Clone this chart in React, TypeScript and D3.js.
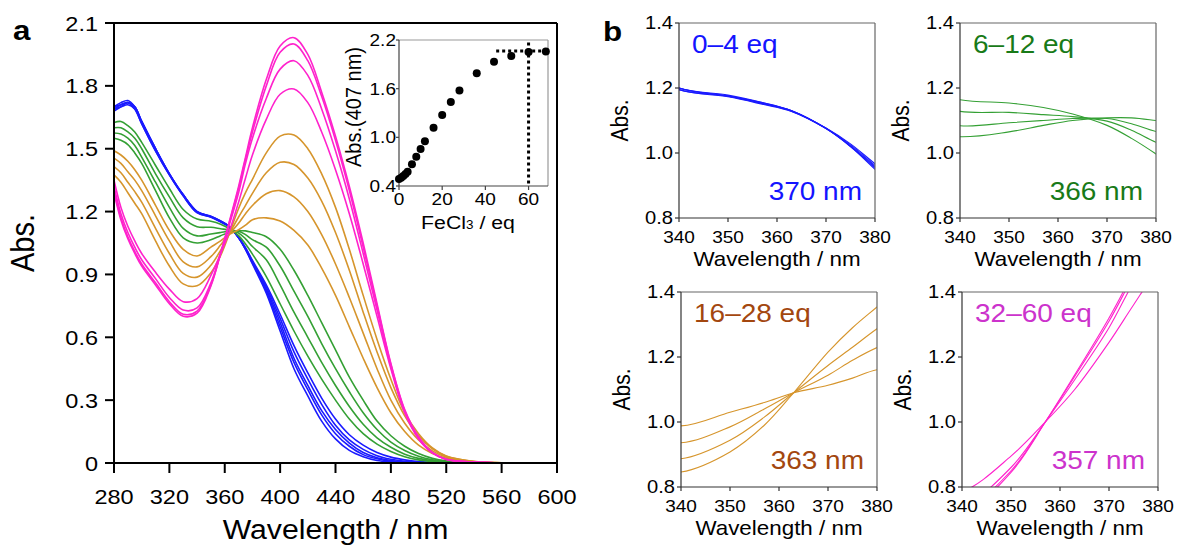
import React from 'react';
import * as d3 from 'd3';

// ---------- data ----------
const wavelengths = [280,285,290,295,300,310,320,330,340,350,357,363,370,375,380,390,400,410,420,430,440,450,460,470,480,490,500,510,520,540,560,600];

const blue0eq = [1.69,1.71,1.72,1.70,1.63,1.50,1.38,1.28,1.20,1.175,1.155,1.13,1.075,1.02,0.95,0.81,0.63,0.45,0.32,0.20,0.115,0.06,0.03,0.012,0.005,0.002,0,0,0,0,0,0];
const blue1eq = [1.70,1.72,1.73,1.70,1.63,1.50,1.38,1.28,1.20,1.178,1.155,1.13,1.076,1.02,0.955,0.82,0.65,0.48,0.35,0.23,0.14,0.08,0.04,0.02,0.008,0.003,0,0,0,0,0,0];
const blue2eq = [1.68,1.70,1.72,1.69,1.62,1.49,1.375,1.275,1.195,1.175,1.152,1.128,1.075,1.022,0.958,0.83,0.67,0.50,0.37,0.25,0.16,0.095,0.05,0.025,0.012,0.005,0.002,0,0,0,0,0];
const blue3eq = [1.70,1.71,1.72,1.70,1.63,1.50,1.38,1.28,1.20,1.176,1.153,1.13,1.076,1.025,0.962,0.84,0.69,0.53,0.40,0.28,0.18,0.11,0.065,0.035,0.018,0.008,0.003,0,0,0,0,0];
const blue4eq = [1.69,1.70,1.71,1.69,1.62,1.49,1.375,1.275,1.195,1.173,1.15,1.128,1.077,1.028,0.967,0.85,0.71,0.56,0.43,0.31,0.21,0.135,0.085,0.05,0.028,0.015,0.007,0.003,0,0,0,0];

const green6eq = [1.625,1.63,1.61,1.58,1.53,1.42,1.31,1.21,1.164,1.154,1.14,1.12,1.085,1.045,0.997,0.89,0.76,0.63,0.51,0.40,0.30,0.21,0.14,0.09,0.055,0.03,0.015,0.007,0.003,0,0,0];
const green8eq = [1.60,1.60,1.58,1.55,1.50,1.38,1.27,1.17,1.128,1.125,1.118,1.112,1.098,1.07,1.033,0.97,0.85,0.72,0.60,0.48,0.37,0.27,0.185,0.12,0.075,0.042,0.022,0.01,0.004,0,0,0];
const green10eq = [1.575,1.57,1.55,1.515,1.46,1.34,1.22,1.12,1.084,1.093,1.10,1.106,1.106,1.09,1.066,1.03,0.94,0.82,0.70,0.57,0.45,0.34,0.24,0.16,0.10,0.06,0.032,0.015,0.006,0.001,0,0];
const green12eq = [1.55,1.54,1.52,1.48,1.43,1.30,1.17,1.075,1.05,1.065,1.085,1.10,1.108,1.108,1.10,1.08,1.02,0.92,0.80,0.67,0.54,0.41,0.30,0.20,0.13,0.08,0.045,0.022,0.01,0.002,0,0];

const gold16eq = [1.49,1.47,1.44,1.40,1.35,1.23,1.11,1.02,0.988,1.03,1.06,1.09,1.113,1.135,1.161,1.17,1.155,1.11,1.04,0.93,0.80,0.65,0.50,0.36,0.24,0.15,0.085,0.045,0.022,0.005,0,0];
const gold20eq = [1.455,1.43,1.39,1.35,1.30,1.18,1.06,0.96,0.936,0.985,1.04,1.09,1.144,1.19,1.229,1.285,1.30,1.27,1.20,1.09,0.95,0.79,0.62,0.45,0.30,0.19,0.11,0.058,0.028,0.006,0.001,0];
const gold24eq = [1.415,1.385,1.34,1.295,1.245,1.12,1.00,0.905,0.887,0.944,1.015,1.09,1.174,1.23,1.287,1.385,1.435,1.425,1.36,1.25,1.10,0.92,0.72,0.53,0.36,0.225,0.13,0.068,0.032,0.007,0.001,0];
const gold28eq = [1.375,1.34,1.29,1.24,1.19,1.06,0.94,0.855,0.846,0.908,0.99,1.09,1.215,1.29,1.354,1.48,1.56,1.565,1.50,1.38,1.22,1.02,0.80,0.59,0.40,0.24,0.14,0.072,0.034,0.008,0.001,0];

const pink36eq = [1.35,1.22,1.13,1.06,1.00,0.91,0.83,0.77,0.785,0.895,1.00,1.10,1.245,1.36,1.47,1.64,1.76,1.785,1.72,1.58,1.40,1.19,0.95,0.70,0.45,0.24,0.115,0.048,0.017,0.004,0.001,0];
const pink44eq = [1.32,1.19,1.10,1.03,0.97,0.88,0.79,0.73,0.74,0.86,1.00,1.13,1.29,1.43,1.55,1.74,1.88,1.92,1.85,1.69,1.49,1.26,1.00,0.73,0.46,0.245,0.12,0.05,0.017,0.004,0.001,0];
const pink52eq = [1.30,1.17,1.08,1.01,0.95,0.86,0.77,0.71,0.725,0.85,1.00,1.14,1.31,1.45,1.58,1.80,1.96,2.00,1.92,1.75,1.54,1.30,1.03,0.75,0.47,0.25,0.12,0.05,0.018,0.004,0.001,0];
const pink60eq = [1.29,1.16,1.07,1.00,0.94,0.85,0.76,0.70,0.715,0.845,1.00,1.145,1.32,1.46,1.60,1.83,1.99,2.03,1.95,1.77,1.56,1.32,1.05,0.76,0.475,0.255,0.125,0.05,0.018,0.004,0.001,0];

const blueSeries = [blue0eq, blue1eq, blue2eq, blue3eq, blue4eq];
const greenSeries = [green6eq, green8eq, green10eq, green12eq];
const goldSeries = [gold16eq, gold20eq, gold24eq, gold28eq];
const pinkSeries = [pink36eq, pink44eq, pink52eq, pink60eq];

const insetEq = [0,1,2,3,4,6,8,10,12,16,20,24,28,36,44,52,60,68];
const insetAbs = [0.486,0.503,0.523,0.548,0.577,0.667,0.762,0.856,0.951,1.119,1.275,1.436,1.576,1.789,1.933,2.003,2.052,2.057];

const mainXTicks = [280,320,360,400,440,480,520,560,600];
const mainYTicks = [0,0.3,0.6,0.9,1.2,1.5,1.8,2.1];
const mainYLabels = ['0','0.3','0.6','0.9','1.2','1.5','1.8','2.1'];
const insetXTicks = [0,20,40,60];
const insetYTicks = [0.4,1.0,1.6,2.2];
const subXTicks = [340,350,360,370,380];
const subYTicks = [0.8,1.0,1.2,1.4];

// ---------- styles ----------
const BLUE = '#1a1aff';
const GREEN = '#34a034';
const GOLD = '#d6952c';
const PINK = '#ff22cc';
const FONT = 'Liberation Sans, Arial, Helvetica, sans-serif';
const SX = 1.12;

function T({ x, y, size, anchor = 'start', fill = '#000', weight = 'normal', rotate = false, dy = '0', children }: any) {
  const tf = rotate
    ? `translate(${x},${y}) rotate(-90) scale(1,${SX})`
    : `translate(${x},${y}) scale(${SX},1)`;
  return (
    <text transform={tf} fontFamily={FONT} fontSize={size} textAnchor={anchor} fill={fill} fontWeight={weight} dy={dy}>
      {children}
    </text>
  );
}

function makeLine(x: any, y: any) {
  return d3
    .line<number>()
    .x((_, i) => x(wavelengths[i]))
    .y((v) => y(v))
    .curve(d3.curveCatmullRom.alpha(0.5));
}

function PanelA() {
  const L = 114, R = 557, TOP = 23, B = 463;
  const x = d3.scaleLinear().domain([280, 600]).range([L, R]);
  const y = d3.scaleLinear().domain([0, 2.1]).range([B, TOP]);
  const line = makeLine(x, y);
  const groups: [number[][], string][] = [
    [blueSeries, BLUE],
    [greenSeries, GREEN],
    [goldSeries, GOLD],
    [pinkSeries, PINK],
  ];
  // inset
  const iL = 399, iR = 548, iT = 40, iB = 186;
  const ix = d3.scaleLinear().domain([0, 69]).range([iL, iR]);
  const iy = d3.scaleLinear().domain([0.4, 2.2]).range([iB, iT]);
  return (
    <g>
      <defs>
        <clipPath id="clipA">
          <rect x={L} y={TOP - 5} width={R - L} height={B - TOP + 5} />
        </clipPath>
      </defs>
      <g clipPath="url(#clipA)">
        {groups.map(([ser, col], gi) =>
          ser.map((s, si) => (
            <path key={`${gi}-${si}`} d={line(s) || ''} fill="none" stroke={col} strokeWidth={1.6} />
          ))
        )}
      </g>
      {/* frame */}
      <line x1={L} x2={R} y1={TOP} y2={TOP} stroke="#000" strokeWidth={2} />
      <line x1={R} x2={R} y1={TOP} y2={B + 10} stroke="#000" strokeWidth={2} />
      <line x1={L} x2={L} y1={TOP} y2={B} stroke="#000" strokeWidth={2} />
      <line x1={L} x2={R} y1={B} y2={B} stroke="#000" strokeWidth={2} />
      {mainXTicks.map((t) => (
        <g key={t}>
          <line x1={x(t)} x2={x(t)} y1={B} y2={B + 10} stroke="#000" strokeWidth={2} />
          <T x={x(t)} y={B + 41} size={21} anchor="middle">{t}</T>
        </g>
      ))}
      {mainYTicks.map((t, i) => (
        <g key={t}>
          <line x1={L - 9} x2={L} y1={y(t)} y2={y(t)} stroke="#000" strokeWidth={2} />
          <T x={L - 16} y={y(t)} size={21} anchor="end" dy="0.36em">{mainYLabels[i]}</T>
        </g>
      ))}
      <T x={(L + R) / 2} y={539} size={27} anchor="middle">Wavelength / nm</T>
      <T x={34} y={(TOP + B) / 2} size={29} anchor="middle" rotate>Abs.</T>
      <T x={13} y={40} size={28} weight="bold">a</T>

      {/* inset */}
      <line x1={iL} x2={iR} y1={iT} y2={iT} stroke="#999" strokeWidth={1.2} />
      <line x1={iR} x2={iR} y1={iT} y2={iB} stroke="#999" strokeWidth={1.2} />
      <line x1={iL} x2={iL} y1={iT} y2={iB} stroke="#444" strokeWidth={1.2} />
      <line x1={iL} x2={iR} y1={iB} y2={iB} stroke="#444" strokeWidth={1.2} />
      {insetXTicks.map((t) => (
        <g key={t}>
          <line x1={ix(t)} x2={ix(t)} y1={iB} y2={iB + 4} stroke="#444" strokeWidth={1.2} />
          <T x={ix(t)} y={iB + 19} size={17} anchor="middle">{t}</T>
        </g>
      ))}
      {insetYTicks.map((t) => (
        <g key={t}>
          <line x1={iL - 3} x2={iL} y1={iy(t)} y2={iy(t)} stroke="#444" strokeWidth={1.2} />
          <T x={iL - 3} y={iy(t)} size={17} anchor="end" dy="0.36em">{t.toFixed(1)}</T>
        </g>
      ))}
      <line x1={ix(45)} x2={ix(69)} y1={iy(2.065)} y2={iy(2.065)} stroke="#000" strokeWidth={3} strokeDasharray="3 3" />
      <line x1={ix(60)} x2={ix(60)} y1={iy(2.17)} y2={iy(0.4)} stroke="#000" strokeWidth={3} strokeDasharray="3 3" />
      {insetEq.map((e, i) => (
        <circle key={i} cx={ix(e)} cy={iy(insetAbs[i])} r={4} fill="#000" />
      ))}
      <text transform={`translate(${468},${iB + 43}) scale(${SX},1)`} fontFamily={FONT} fontSize={19} textAnchor="middle">
        FeCl<tspan fontSize={12}>3</tspan> / eq
      </text>
      <T x={361} y={107} size={20} anchor="middle" rotate>Abs.(407 nm)</T>
    </g>
  );
}

function SubPlot({ id, L, TOP, series, color, label, labelColor, iso }: any) {
  const W = 196, H = 195;
  const R = L + W, B = TOP + H;
  const x = d3.scaleLinear().domain([340, 380]).range([L, R]);
  const y = d3.scaleLinear().domain([0.8, 1.4]).range([B, TOP]);
  const line = makeLine(x, y);
  return (
    <g>
      <defs>
        <clipPath id={id}>
          <rect x={L} y={TOP} width={W} height={H} />
        </clipPath>
      </defs>
      <g clipPath={`url(#${id})`}>
        {series.map((s: number[], i: number) => (
          <path key={i} d={line(s) || ''} fill="none" stroke={color} strokeWidth={1.1} />
        ))}
      </g>
      <line x1={L} x2={R} y1={TOP} y2={TOP} stroke="#666" strokeWidth={1.2} />
      <line x1={R} x2={R} y1={TOP} y2={B} stroke="#666" strokeWidth={1.2} />
      <line x1={L} x2={L} y1={TOP} y2={B} stroke="#333" strokeWidth={1.2} />
      <line x1={L} x2={R} y1={B} y2={B} stroke="#333" strokeWidth={1.2} />
      {subXTicks.map((t) => (
        <g key={t}>
          <line x1={x(t)} x2={x(t)} y1={B} y2={B + 4} stroke="#333" strokeWidth={1.2} />
          <T x={x(t)} y={B + 25} size={17} anchor="middle">{t}</T>
        </g>
      ))}
      {subYTicks.map((t) => (
        <g key={t}>
          <line x1={L - 4} x2={L} y1={y(t)} y2={y(t)} stroke="#333" strokeWidth={1.2} />
          <T x={L - 6} y={y(t)} size={18} anchor="end" dy="0.36em">{t.toFixed(1)}</T>
        </g>
      ))}
      <T x={(L + R) / 2} y={B + 48} size={20} anchor="middle">Wavelength / nm</T>
      <T x={L - 51} y={(TOP + B) / 2} size={21} anchor="middle" rotate>Abs.</T>
      <T x={L + 13} y={TOP + 30} size={25} fill={labelColor}>{label}</T>
      <T x={R - 13} y={B - 18} size={25} fill={labelColor} anchor="end">{iso}</T>
    </g>
  );
}

export default function App() {
  return (
    <svg width={1177} height={545} style={{ position: 'absolute', left: 0, top: 0, background: '#fff' }}>
      <rect x={0} y={0} width={1177} height={545} fill="#fff" />
      <PanelA />
      <T x={603} y={41} size={28} weight="bold">b</T>
      <SubPlot id="c1" L={679} TOP={23} series={blueSeries} color={BLUE} label="0–4 eq" labelColor="#1414ff" iso="370 nm" />
      <SubPlot id="c2" L={960} TOP={23} series={greenSeries} color={GREEN} label="6–12 eq" labelColor="#187a18" iso="366 nm" />
      <SubPlot id="c3" L={681} TOP={292} series={goldSeries} color={GOLD} label="16–28 eq" labelColor="#a3470f" iso="363 nm" />
      <SubPlot id="c4" L={962} TOP={292} series={pinkSeries} color={PINK} label="32–60 eq" labelColor="#cc33cc" iso="357 nm" />
    </svg>
  );
}
